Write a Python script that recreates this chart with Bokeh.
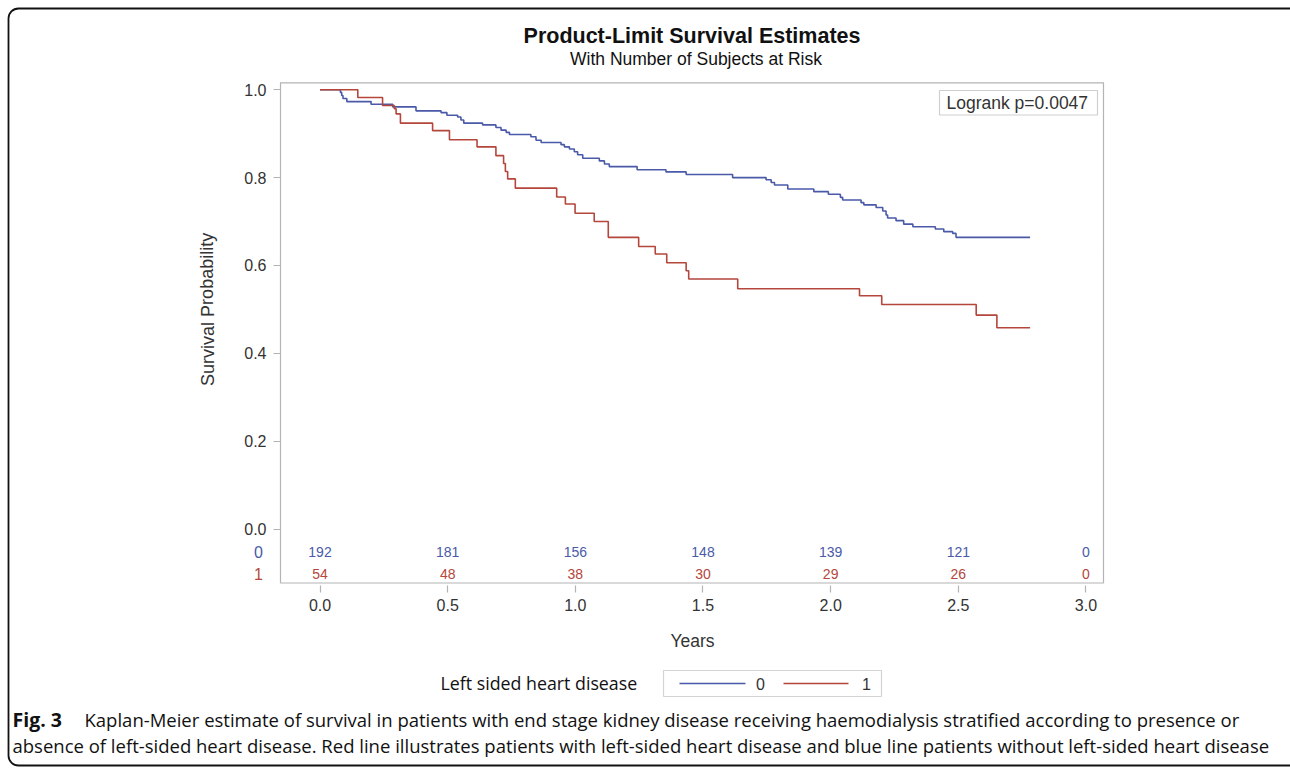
from bokeh.plotting import figure
from bokeh.models import (Label, BoxAnnotation, Arrow, FixedTicker, NumeralTickFormatter,
                          Range1d, ColumnDataSource, LinearAxis)
from bokeh.core.properties import value
from bokeh.embed import file_html
from bokeh.resources import INLINE

# ---------------- data ----------------
blue_times = [0, 0.080, 0.085, 0.090, 0.105, 0.200, 0.285, 0.376, 0.474, 0.497, 0.539, 0.552,
              0.563, 0.637, 0.689, 0.709, 0.729, 0.742, 0.826, 0.846, 0.866, 0.944, 0.957, 0.977,
              0.996, 1.009, 1.029, 1.094, 1.114, 1.133, 1.242, 1.355, 1.434, 1.616, 1.747, 1.767,
              1.780, 1.832, 1.934, 1.991, 2.038, 2.047, 2.119, 2.130, 2.178, 2.204, 2.217, 2.223,
              2.256, 2.286, 2.322, 2.410, 2.443, 2.478, 2.491, 2.781]
blue_surv = [1.0, 0.994, 0.987, 0.980, 0.973, 0.967, 0.961, 0.952, 0.948, 0.942, 0.938, 0.931,
             0.924, 0.920, 0.914, 0.908, 0.903, 0.898, 0.893, 0.885, 0.880, 0.875, 0.870, 0.865,
             0.859, 0.852, 0.844, 0.838, 0.831, 0.825, 0.818, 0.813, 0.807, 0.800, 0.795, 0.789,
             0.783, 0.774, 0.768, 0.762, 0.755, 0.749, 0.743, 0.738, 0.732, 0.724, 0.715, 0.708,
             0.702, 0.694, 0.688, 0.683, 0.677, 0.673, 0.664, 0.664]

red_times = [0, 0.148, 0.245, 0.291, 0.298, 0.315, 0.441, 0.507, 0.615, 0.689, 0.719, 0.726,
             0.735, 0.765, 0.927, 0.961, 0.999, 1.074, 1.129, 1.248, 1.313, 1.358, 1.434, 1.444,
             1.636, 2.113, 2.200, 2.570, 2.651, 2.781]
red_surv = [1.0, 0.9825, 0.964, 0.957, 0.945, 0.924, 0.907, 0.886, 0.870, 0.850, 0.832, 0.814,
            0.797, 0.776, 0.756, 0.740, 0.719, 0.700, 0.664, 0.643, 0.626, 0.606, 0.588, 0.569,
            0.547, 0.531, 0.511, 0.487, 0.458, 0.458]

risk_times = [0.0, 0.5, 1.0, 1.5, 2.0, 2.5, 3.0]
risk_blue = [192, 181, 156, 148, 139, 121, 0]
risk_red = [54, 48, 38, 30, 29, 26, 0]

group_labels = ["0", "1"]
x_ticks = [0.0, 0.5, 1.0, 1.5, 2.0, 2.5, 3.0]
y_ticks = [0.0, 0.2, 0.4, 0.6, 0.8, 1.0]

title = "Product-Limit Survival Estimates"
subtitle = "With Number of Subjects at Risk"
x_label = "Years"
y_label = "Survival Probability"
logrank = "Logrank p=0.0047"
legend_title = "Left sided heart disease"
caption_bold = "Fig. 3"
caption_line1 = ("Kaplan-Meier estimate of survival in patients with end stage kidney disease "
                 "receiving haemodialysis stratified according to presence or")
caption_line2 = ("absence of left-sided heart disease. Red line illustrates patients with "
                 "left-sided heart disease and blue line patients without left-sided heart disease")

# ---------------- style / layout ----------------
BLUE = "#4a5aa8"
RED = "#b4463c"
TXT = "#333333"
AXC = "#b4b4b4"
SANS = "Liberation Sans"
CAP = "Open Sans"

W, H = 1290, 768
# pixel <-> data mapping of the plot area (frame spans the whole canvas)
PX0, PXS = 319.5, 255.33     # x=0 pixel, pixels per year
PY0, PYS = 528.5, 439.25     # y=0 pixel, pixels per unit survival


def dx(px):
    return (px - PX0) / PXS


def dy(py):
    return (PY0 - py) / PYS


def sy(py):  # screen y (from bottom) for annotations
    return H - py


BOX_L, BOX_R, BOX_T, BOX_B = 280, 1103, 82.3, 582.5

p = figure(width=W, height=H, output_backend="svg", toolbar_location=None,
           x_range=Range1d(dx(0), dx(W)), y_range=Range1d(dy(H), dy(0)),
           x_axis_location=None, y_axis_location=None, min_border=0)
p.grid.visible = False
p.outline_line_color = None
p.background_fill_color = "white"
p.border_fill_color = "white"

# plot box
p.add_layout(BoxAnnotation(left=dx(BOX_L), right=dx(BOX_R), top=dy(BOX_T), bottom=dy(BOX_B),
                           fill_alpha=0, line_color=AXC, line_alpha=1, line_width=1.2,
                           level="underlay"))

# axes (library axes placed at the box edges)
xa = LinearAxis(fixed_location=dy(BOX_B + 2.5), ticker=FixedTicker(ticks=x_ticks),
                formatter=NumeralTickFormatter(format="0.0"))
ya = LinearAxis(fixed_location=dx(BOX_L), ticker=FixedTicker(ticks=y_ticks),
                formatter=NumeralTickFormatter(format="0.0"))
for ax in (xa, ya):
    ax.axis_line_color = None
    ax.major_tick_line_color = AXC
    ax.major_tick_line_width = 1.2
    ax.minor_tick_line_color = None
    ax.major_tick_in = 0
    ax.major_label_text_font = SANS
    ax.major_label_text_color = TXT
    ax.major_label_text_font_size = "16px"
xa.major_tick_out = 7
ya.major_tick_out = 7
xa.major_label_standoff = 6
ya.major_label_standoff = 7
p.add_layout(xa, "below")
p.add_layout(ya, "left")

p.add_layout(Label(x=692, y=sy(640), x_units="screen", y_units="screen", text=x_label,
                   text_color=TXT, text_font=SANS, text_font_size="17.5px",
                   text_align="center", text_baseline="middle"))
p.add_layout(Label(x=207, y=0.5, x_units="screen", y_units="data", text=y_label,
                   angle=1.5708, text_color=TXT, text_font=SANS, text_font_size="18px",
                   text_align="center", text_baseline="middle"))

# curves
p.step(blue_times, blue_surv, mode="after", line_color=BLUE, line_width=1.6)
p.step(red_times, red_surv, mode="after", line_color=RED, line_width=1.6)

# risk table
y_row0, y_row1 = dy(551), dy(573)
src_b = ColumnDataSource(dict(x=risk_times, y=[y_row0] * len(risk_times), t=[str(v) for v in risk_blue]))
src_r = ColumnDataSource(dict(x=risk_times, y=[y_row1] * len(risk_times), t=[str(v) for v in risk_red]))
p.text(x="x", y="y", text="t", source=src_b, text_color=BLUE, text_font=value(SANS),
       text_font_size="14px", text_align="center", text_baseline="middle")
p.text(x="x", y="y", text="t", source=src_r, text_color=RED, text_font=value(SANS),
       text_font_size="14px", text_align="center", text_baseline="middle")
p.add_layout(Label(x=258, y=y_row0, x_units="screen", y_units="data", text=group_labels[0],
                   text_color=BLUE, text_font=SANS, text_font_size="16px",
                   text_align="center", text_baseline="middle"))
p.add_layout(Label(x=258, y=y_row1, x_units="screen", y_units="data", text=group_labels[1],
                   text_color=RED, text_font=SANS, text_font_size="16px",
                   text_align="center", text_baseline="middle"))

# titles
p.add_layout(Label(x=691.5, y=sy(35), x_units="screen", y_units="screen", text=title,
                   text_font=SANS, text_font_style="bold", text_font_size="21.5px",
                   text_color="#111111", text_align="center", text_baseline="middle"))
p.add_layout(Label(x=695.5, y=sy(58), x_units="screen", y_units="screen", text=subtitle,
                   text_font=SANS, text_font_size="17.5px", text_color="#111111",
                   text_align="center", text_baseline="middle"))

# logrank box
p.add_layout(BoxAnnotation(left=939, right=1097, top=sy(90), bottom=sy(114.5),
                           left_units="screen", right_units="screen", top_units="screen",
                           bottom_units="screen", fill_color="white", fill_alpha=1,
                           line_color="#cfcfcf", line_alpha=1, line_width=1.2))
p.add_layout(Label(x=946, y=sy(102), x_units="screen", y_units="screen", text=logrank,
                   text_font=SANS, text_font_size="17.5px", text_color=TXT,
                   text_align="left", text_baseline="middle"))

# legend
p.add_layout(Label(x=440, y=sy(682), x_units="screen", y_units="screen", text=legend_title,
                   text_font=CAP, text_font_size="17.8px", text_color="#111111",
                   text_align="left", text_baseline="middle"))
p.add_layout(BoxAnnotation(left=663, right=881, top=sy(670), bottom=sy(696),
                           left_units="screen", right_units="screen", top_units="screen",
                           bottom_units="screen", fill_color="white", fill_alpha=1,
                           line_color="#d4d4d4", line_alpha=1, line_width=1.2))
p.add_layout(Arrow(x_start=679, y_start=sy(683), x_end=745, y_end=sy(683),
                   start_units="screen", end_units="screen", end=None, start=None,
                   line_color=BLUE, line_width=1.4))
p.add_layout(Arrow(x_start=783, y_start=sy(683), x_end=848, y_end=sy(683),
                   start_units="screen", end_units="screen", end=None, start=None,
                   line_color=RED, line_width=1.4))
p.add_layout(Label(x=760, y=sy(683), x_units="screen", y_units="screen", text=group_labels[0],
                   text_font=SANS, text_font_size="16px", text_color=TXT,
                   text_align="center", text_baseline="middle"))
p.add_layout(Label(x=866, y=sy(683), x_units="screen", y_units="screen", text=group_labels[1],
                   text_font=SANS, text_font_size="16px", text_color=TXT,
                   text_align="center", text_baseline="middle"))

# caption
p.add_layout(Label(x=12, y=sy(719), x_units="screen", y_units="screen", text=caption_bold,
                   text_font=CAP, text_font_style="bold", text_font_size="19.5px", text_color="#111111",
                   text_align="left", text_baseline="middle"))
p.add_layout(Label(x=84, y=sy(719), x_units="screen", y_units="screen", text=caption_line1,
                   text_font=CAP, text_font_size="18.5px", text_color="#111111",
                   text_align="left", text_baseline="middle"))
p.add_layout(Label(x=12, y=sy(745), x_units="screen", y_units="screen", text=caption_line2,
                   text_font=CAP, text_font_size="18.5px", text_color="#111111",
                   text_align="left", text_baseline="middle"))

# outer rounded border
p.add_layout(BoxAnnotation(left=8, right=1310, top=sy(8), bottom=sy(765),
                           left_units="screen", right_units="screen", top_units="screen",
                           bottom_units="screen", fill_alpha=0, line_color="#111111",
                           line_alpha=1, line_width=1.8, border_radius=10))

open("out.html", "w").write(file_html(p, INLINE))
